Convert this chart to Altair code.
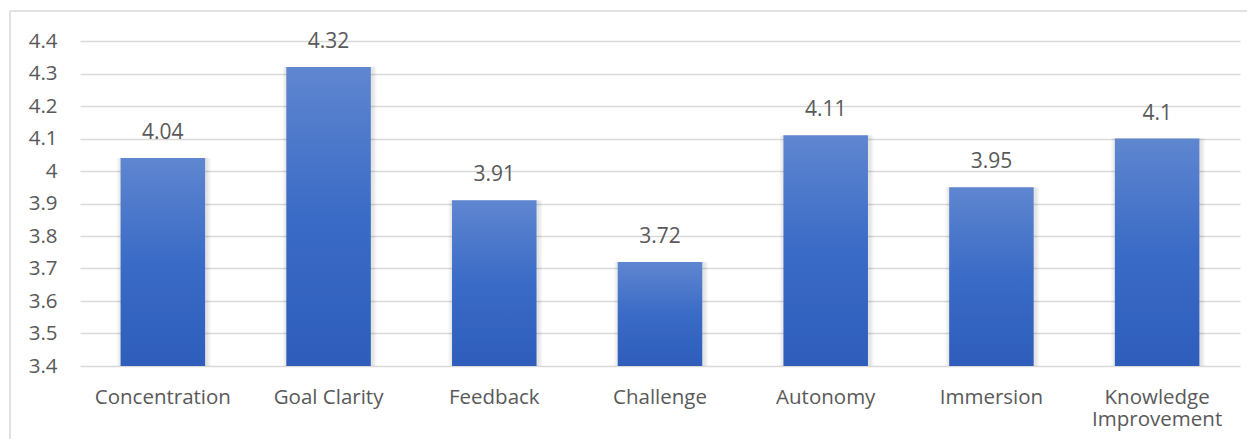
import altair as alt
import pandas as pd

categories = ["Concentration", "Goal Clarity", "Feedback", "Challenge",
              "Autonomy", "Immersion", "Knowledge Improvement"]
values = [4.04, 4.32, 3.91, 3.72, 4.11, 3.95, 4.10]
y_ticks = [3.4, 3.5, 3.6, 3.7, 3.8, 3.9, 4.0, 4.1, 4.2, 4.3, 4.4]

df = pd.DataFrame({"category": categories, "value": values})

FONT = "Open Sans"
TXT = "#595959"
GRID = "#d9d9d9"
FS = 20.5

x_scale = alt.Scale(paddingInner=0.49, paddingOuter=0.245)
x_axis = alt.Axis(labelAngle=0, ticks=False, tickSize=0, domain=False,
                  labelPadding=21, labelFontSize=FS, labelColor=TXT,
                  labelFont=FONT, labelLineHeight=22, labelBaseline="top",
                  labelOverlap=False,
                  labelExpr="datum.value == 'Knowledge Improvement' ? ['Knowledge', 'Improvement'] : datum.value")
y_scale = alt.Scale(domain=[3.4, 4.4], nice=False, zero=False)
y_axis = alt.Axis(values=y_ticks, format="~g", ticks=False, tickSize=0,
                  domain=False, labelPadding=23, labelFontSize=FS,
                  labelColor=TXT, labelFont=FONT, grid=True,
                  labelOverlap=False, tickCount=11,
                  gridColor=GRID, gridWidth=1.3)

x_enc = alt.X("category:N", sort=categories, title=None, scale=x_scale, axis=x_axis)
y_enc = alt.Y("value:Q", scale=y_scale, title=None, axis=y_axis)

gradient = alt.Gradient(
    gradient="linear",
    stops=[alt.GradientStop(color="#5f86d0", offset=0),
           alt.GradientStop(color="#3a6bc6", offset=0.5),
           alt.GradientStop(color="#2e5dbb", offset=1)],
    x1=1, x2=1, y1=0, y2=1,
)

base = alt.Chart(df)

# soft shadow approximation around each bar
shadows = [
    base.mark_bar(color="#000000", opacity=0.035,
                  width=alt.RelativeBandSize(k), xOffset=1).encode(
        x=x_enc, y=y_enc, y2=alt.datum(3.4))
    for k in (1.11, 1.075, 1.04)
]

bars = base.mark_bar(color=gradient).encode(
    x=x_enc, y=y_enc, y2=alt.datum(3.4),
)

text = base.mark_text(font=FONT, fontSize=FS + 0.5, color=TXT, baseline="alphabetic",
                      dy=-19).encode(
    x=x_enc, y=y_enc,
    text=alt.Text("value:Q", format=".3~g"),
)

frame_df = pd.DataFrame({"k": [0]})
left_line = alt.Chart(frame_df).mark_rule(color=GRID, strokeWidth=1.5).encode(
    x=alt.value(-70), y=alt.value(-30), y2=alt.value(420))
top_line = alt.Chart(frame_df).mark_rule(color=GRID, strokeWidth=1.5).encode(
    x=alt.value(-70), x2=alt.value(1180), y=alt.value(-30))

chart = alt.layer(*shadows, bars, text, left_line, top_line).properties(
    width=1160, height=325,
    autosize=alt.AutoSizeParams(type="none"),
    padding={"left": 72, "top": 33, "right": 7, "bottom": 73},
).configure_view(stroke=None)

chart.save("out.html", embed_options={"renderer": "svg", "actions": False})
